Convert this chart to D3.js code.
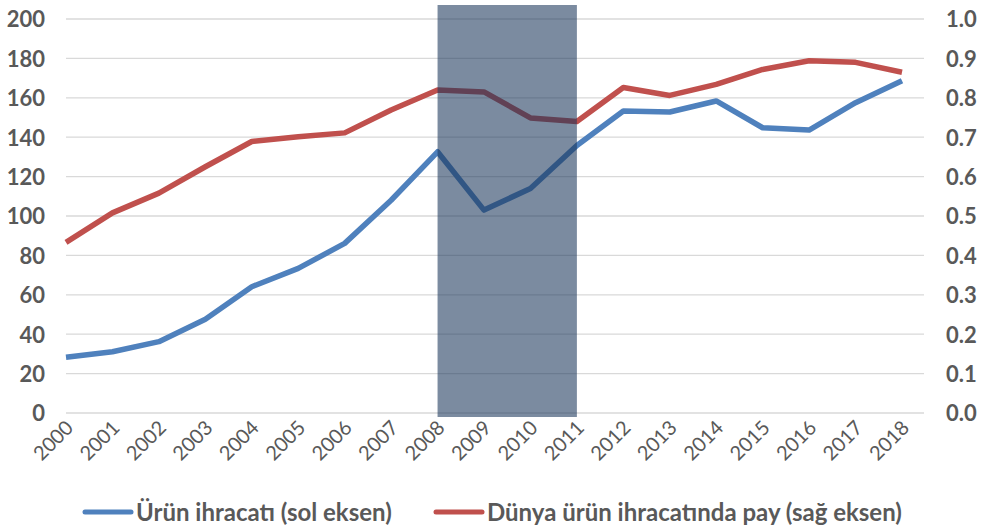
<!DOCTYPE html>
<html>
<head>
<meta charset="utf-8">
<script src="https://cdn.jsdelivr.net/npm/d3@7"></script>
<style>
  body { margin: 0; background: #fff; }
  text { font-family: Lato, "Open Sans", sans-serif; fill: #595959; }
</style>
</head>
<body>
<svg width="982" height="528"></svg>
<script>
const years = ['2000','2001','2002','2003','2004','2005','2006','2007','2008','2009',
  '2010','2011','2012','2013','2014','2015','2016','2017','2018'];
const exports = [28.3, 31.1, 36.2, 47.6, 64.1, 73.4, 86.1, 108, 132.6, 103,
  114, 135.8, 153.3, 152.8, 158.4, 144.8, 143.6, 157.5, 168.7];
const worldShare = [0.433, 0.508, 0.558, 0.625, 0.689, 0.701, 0.711, 0.769, 0.820, 0.815,
  0.749, 0.740, 0.826, 0.806, 0.834, 0.872, 0.894, 0.890, 0.865];
const leftTicks = [0, 20, 40, 60, 80, 100, 120, 140, 160, 180, 200];
const rightTicks = [0, 0.1, 0.2, 0.3, 0.4, 0.5, 0.6, 0.7, 0.8, 0.9, 1.0];
const crisis = ['2008', '2011'];

const svg = d3.select('svg');
const x = d3.scalePoint().domain(years).range([66, 902]);
const yL = d3.scaleLinear().domain([0, 200]).range([413, 19]);
const yR = d3.scaleLinear().domain([0, 1]).range([413, 19]);

// gridlines
svg.append('g').selectAll('line').data(leftTicks).enter().append('line')
  .attr('x1', 66).attr('x2', 924)
  .attr('y1', d => yL(d)).attr('y2', d => yL(d))
  .attr('stroke', '#d9d9d9').attr('stroke-width', 1.3);

// left axis
const la = svg.append('g').attr('transform', 'translate(45,0)')
  .call(d3.axisLeft(yL).tickValues(leftTicks).tickSize(0).tickPadding(0));
la.select('.domain').remove();
la.selectAll('text').style('font-size', '22px').style('font-weight', 'bold')
  .attr('fill', '#595959').attr('dy', '0.36em');

// right axis
const ra = svg.append('g').attr('transform', 'translate(946,0)')
  .call(d3.axisRight(yR).tickValues(rightTicks).tickFormat(d3.format('.1f')).tickSize(0).tickPadding(0));
ra.select('.domain').remove();
ra.selectAll('text').style('font-size', '22px').style('font-weight', 'bold')
  .attr('fill', '#595959').attr('dy', '0.36em');

// x axis labels
const xa = svg.append('g').attr('transform', 'translate(0,413)')
  .call(d3.axisBottom(x).tickSize(0).tickPadding(0));
xa.select('.domain').remove();
xa.selectAll('text')
  .style('font-size', '20px').attr('fill', '#595959')
  .attr('text-anchor', 'end')
  .attr('dy', null).attr('y', 0)
  .attr('transform', 'translate(8,16) rotate(-45)');

const line = y => d3.line().x((d, i) => x(years[i])).y(d => y(d));

svg.append('path').datum(exports)
  .attr('d', line(yL)).attr('fill', 'none')
  .attr('stroke', '#4f81bd').attr('stroke-width', 5.5).attr('stroke-linejoin', 'round');
svg.append('path').datum(worldShare)
  .attr('d', line(yR)).attr('fill', 'none')
  .attr('stroke', '#c0504d').attr('stroke-width', 5.5).attr('stroke-linejoin', 'round');

// crisis shading
svg.append('rect')
  .attr('x', x(crisis[0])).attr('width', x(crisis[1]) - x(crisis[0]))
  .attr('y', 5).attr('height', 412)
  .attr('fill', '#1b375c').attr('opacity', 0.58);

// legend
const legend = [
  {name: 'Ürün ihracatı (sol eksen)', color: '#4f81bd', x: 85},
  {name: 'Dünya ürün ihracatında pay (sağ eksen)', color: '#c0504d', x: 436}
];
const lg = svg.append('g').selectAll('g').data(legend).enter().append('g')
  .attr('transform', d => `translate(${d.x},512)`);
lg.append('line').attr('x1', 0).attr('x2', 46)
  .attr('stroke', d => d.color).attr('stroke-width', 5).attr('stroke-linecap', 'round');
lg.append('text').attr('x', 51).attr('dy', '0.36em')
  .style('font-size', '24px').style('font-weight', 'bold')
  .text(d => d.name);
</script>
</body>
</html>
